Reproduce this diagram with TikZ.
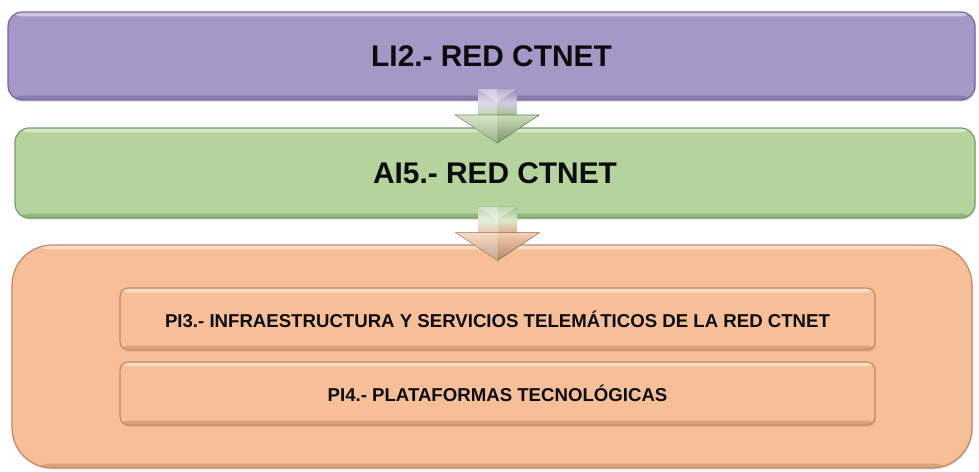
\documentclass[tikz,border=0pt]{standalone}
\usepackage{fontspec}
\setmainfont{Liberation Sans}
\usepackage{tikz}
\usetikzlibrary{calc, shadows}

\definecolor{lilac}{RGB}{166,152,198}
\definecolor{lilacdark}{RGB}{118,104,158}
\definecolor{sage}{RGB}{181,211,156}
\definecolor{sagedark}{RGB}{122,156,102}
\definecolor{peach}{RGB}{247,191,152}
\definecolor{peachdark}{RGB}{196,138,98}
\definecolor{inktext}{RGB}{12,12,12}

\tikzset{
  bevelbox/.style 2 args={draw=#2, line width=0.7pt, fill=#1, text=inktext,
    drop shadow={opacity=0.25, shadow xshift=0.6pt, shadow yshift=-0.9pt},
    path picture={
      \fill[white, opacity=0.45] (path picture bounding box.north west) rectangle ([yshift=-2.5pt]path picture bounding box.north east);
      \fill[#2, opacity=0.55] (path picture bounding box.south west) rectangle ([yshift=2.5pt]path picture bounding box.south east);
    }},
  bigtitle/.style={font=\bfseries\fontsize{17}{19}\selectfont},
  smalltitle/.style={font=\bfseries\fontsize{10.6}{12}\selectfont},
}

% block arrow from the bottom of one box into the top of the next
\newcommand{\BlockArrow}[4]{%
  \coordinate (m) at ($(#1.south)!.5!(#2.north)$);
  \shade[top color=#3!90!black, bottom color=#4!90!black, middle color=#3!50!white]
    ($(m)+(-15.5,-25)$) rectangle ($(m)+(23.5,2)$);
  \fill[white, opacity=0.3] ($(m)+(-15.5,-25)$) rectangle ($(m)+(4,2)$);
  \fill[white, opacity=0.35] ($(m)+(-15.5,-25)$) -- ($(m)+(23.5,-25)$) -- ($(m)+(4,-12)$) -- cycle;
  \shade[top color=#4!75!white, bottom color=#4!70!black, draw=#4!55!black, line width=0.3pt]
    ($(m)+(-38,1)$) -- ($(m)+(46,1)$) -- ($(m)+(4,29)$) -- cycle;
  \fill[white, opacity=0.25] ($(m)+(-38,1)$) -- ($(m)+(4,1)$) -- ($(m)+(4,29)$) -- cycle;
}

\begin{document}
\begin{tikzpicture}[x=0.02cm, y=-0.02cm]
\useasboundingbox (0,0) rectangle (979,471);

% Main boxes
\node[bevelbox={lilac}{lilacdark}, rounded corners=0.28cm, minimum width=19.34cm, minimum height=1.76cm, bigtitle]
  (li2) at (491.5,56) {LI2.- RED CTNET};
\node[bevelbox={sage}{sagedark}, rounded corners=0.28cm, minimum width=19.2cm, minimum height=1.8cm, bigtitle]
  (ai5) at (495,173) {AI5.- RED CTNET};
\node[bevelbox={peach}{peachdark}, rounded corners=0.8cm, minimum width=19.2cm, minimum height=4.46cm]
  (pr) at (492,356.5) {};

% Inner boxes
\node[bevelbox={peach}{peachdark}, rounded corners=0.16cm, minimum width=15.1cm, minimum height=1.24cm, smalltitle]
  (pi3) at (497.5,319) {PI3.- INFRAESTRUCTURA Y SERVICIOS TELEMÁTICOS DE LA RED CTNET};
\node[bevelbox={peach}{peachdark}, rounded corners=0.16cm, minimum width=15.1cm, minimum height=1.26cm, smalltitle]
  (pi4) at (497.5,393.5) {PI4.- PLATAFORMAS TECNOLÓGICAS};

% Arrows
\BlockArrow{li2}{ai5}{lilac}{sage}
\BlockArrow{ai5}{pr}{sage}{peach}
\end{tikzpicture}
\end{document}
